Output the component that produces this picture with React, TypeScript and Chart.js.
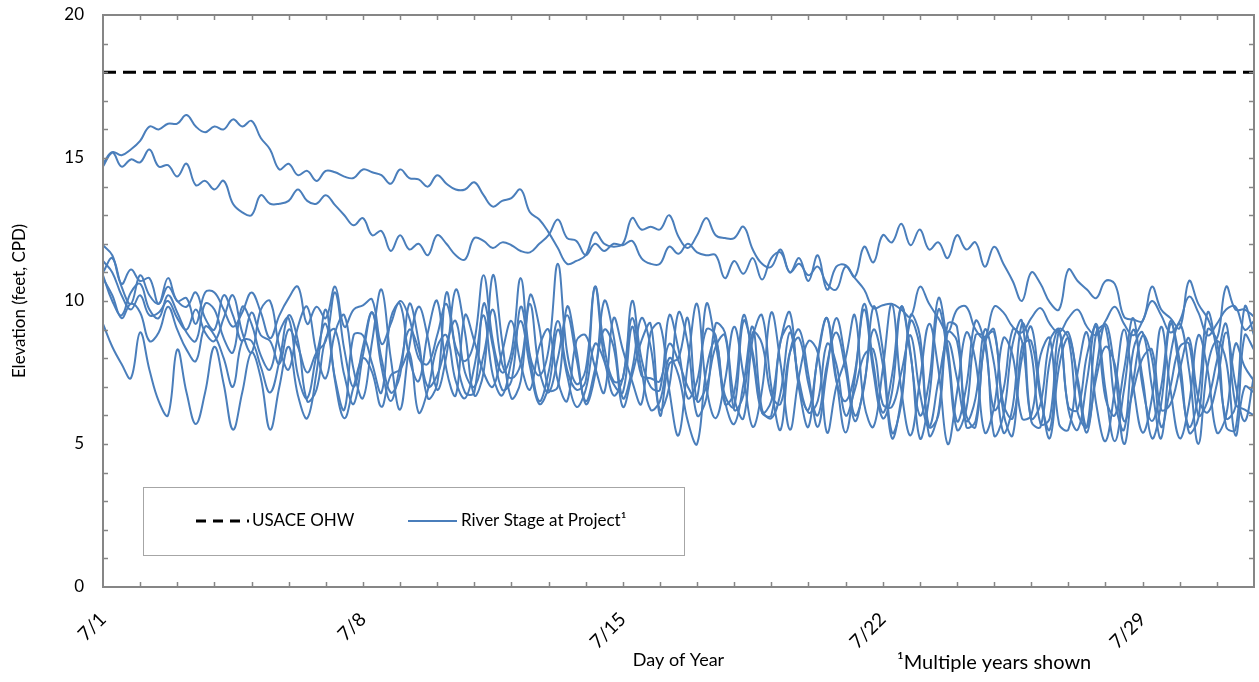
import { useEffect, useRef } from 'react';
import Chart from 'chart.js/auto';

// Sampling interval of every stage record, in days after 7/1
const STEP_DAYS = 0.25;
const X_MAX_DAYS = 31;

const TICK_DAYS = [0, 7, 14, 21, 28];
const TICK_LABELS = ['7/1', '7/8', '7/15', '7/22', '7/29'];
const Y_TICKS = [0, 5, 10, 15, 20];

// USACE ordinary high water, feet CPD
const OHW_LEVEL = 18;

// River stage at the project, one array per year (feet, CPD), 4 readings per day
const stageA = [
  14.7, 15.2, 15.1, 15.3,
  15.6, 16.1, 16.0, 16.2,
  16.2, 16.5, 16.1, 15.9,
  16.1, 16.0, 16.35, 16.1,
  16.3, 15.7, 15.3, 14.6,
  14.8, 14.4, 14.55, 14.2,
  14.55, 14.5, 14.35, 14.3,
  14.6, 14.5, 14.4, 14.1,
  14.6, 14.3, 14.25, 14.0,
  14.4, 14.1, 13.9, 13.9,
  14.15, 13.7, 13.3, 13.5,
  13.6, 13.9, 13.1, 12.85,
  12.4, 11.85, 11.3, 11.4,
  11.6, 12.4, 12.0, 11.9,
  12.0, 12.9, 12.5, 12.6,
  12.5, 13.0, 12.25, 11.85,
  12.3, 12.9, 12.3, 12.2,
  12.2, 12.6, 11.8, 11.3,
  11.2, 11.8, 11.0, 11.5,
  10.7, 11.6, 10.4, 11.2,
  11.25, 10.85, 11.9, 11.35,
  12.3, 12.05, 12.7, 11.95,
  12.5, 11.8, 12.05, 11.5,
  12.3, 11.8, 12.05, 11.2,
  11.9, 11.3, 10.7, 10.0,
  11.0, 10.6, 9.95, 9.7,
  11.1, 10.7, 10.4, 10.1,
  10.7, 10.6, 9.45, 9.35,
  9.3, 10.5, 9.7, 9.4,
  9.05, 10.7, 9.9, 9.4,
  8.7, 10.5, 9.7, 9.7,
  9.45,
];

const stageB = [
  14.8, 15.2, 14.7, 14.95,
  14.85, 15.3, 14.7, 14.75,
  14.35, 14.8, 14.05, 14.2,
  13.9, 14.2, 13.4, 13.1,
  13.0, 13.7, 13.4, 13.4,
  13.5, 13.9, 13.5, 13.4,
  13.7, 13.35, 13.0, 12.65,
  12.9, 12.3, 12.45, 11.75,
  12.3, 11.8, 12.0, 11.6,
  12.3, 12.0, 11.6, 11.45,
  12.2, 12.1, 11.85, 12.05,
  11.95, 11.75, 11.7, 12.0,
  12.3, 12.85, 12.2, 12.1,
  11.6, 12.0, 11.75, 12.0,
  11.95, 12.1, 11.5, 11.3,
  11.3, 11.9, 11.65, 12.0,
  11.7, 11.6, 11.6, 10.8,
  11.4, 10.95, 11.5, 10.75,
  11.5, 11.7, 11.0, 11.3,
  10.9, 11.2, 10.6, 10.4,
  11.2, 10.8, 10.4, 9.75,
  9.85, 9.9, 9.7, 9.45,
  10.5, 9.9, 9.4, 8.9,
  9.7, 9.8, 9.0, 8.7,
  9.8, 9.6, 9.1, 8.9,
  9.4, 9.75, 9.2, 8.9,
  9.4, 9.7, 9.1, 8.8,
  9.3, 9.8, 9.2, 8.8,
  9.3, 10.0, 9.5, 8.9,
  9.3, 10.15, 9.6, 8.8,
  9.2, 9.7, 9.8, 9.0,
  9.3,
];

const stageC = [
  11.95, 11.6, 10.6, 11.1,
  10.7, 10.8, 9.9, 10.8,
  10.0, 10.1, 9.2, 10.3,
  10.3, 9.7, 9.1, 9.6,
  10.3, 9.6, 8.7, 9.5,
  10.1, 10.5, 9.2, 9.8,
  9.4, 10.5, 9.1, 9.7,
  9.85, 10.05, 8.5, 9.2,
  10.0, 9.4, 8.0, 7.8,
  8.8, 9.9, 8.4, 7.9,
  8.6, 10.9, 8.6, 7.5,
  8.2, 10.8, 8.1, 7.4,
  8.3, 11.3, 8.2, 7.1,
  7.6, 10.5, 8.4, 7.2,
  7.3, 10.0, 8.0, 7.0,
  6.9, 9.5, 8.3, 6.6,
  7.2, 9.0, 8.8, 6.4,
  6.8, 9.5, 8.0, 6.1,
  6.5, 8.6, 9.6, 7.0,
  6.2, 8.0, 9.4, 7.2,
  6.5, 7.5, 9.9, 7.8,
  6.1, 7.4, 9.8, 8.1,
  6.0, 7.2, 10.1, 8.4,
  5.8, 7.0, 9.3, 8.5,
  6.2, 6.9, 9.0, 8.6,
  5.9, 6.4, 8.6, 9.0,
  6.3, 6.2, 8.1, 9.1,
  6.6, 6.0, 7.6, 9.4,
  7.0, 5.8, 7.0, 9.3,
  7.5, 5.6, 6.7, 9.6,
  8.2, 5.9, 6.3, 9.8,
  8.8,
];

const stageD = [
  11.0, 11.5, 10.5, 9.9,
  10.9, 10.2, 9.9, 10.5,
  10.0, 9.8, 10.3, 9.4,
  9.0, 10.2, 9.5, 8.6,
  9.6, 8.8, 8.6, 7.8,
  9.0, 8.4, 7.5, 8.2,
  8.6, 10.3, 8.3, 7.0,
  8.4, 9.6, 8.0, 6.8,
  7.4, 9.9, 8.6, 6.6,
  7.1, 10.3, 8.2, 6.8,
  6.8, 9.9, 8.4, 6.9,
  7.2, 9.8, 8.0, 6.5,
  7.5, 9.3, 7.6, 6.9,
  7.2, 10.5, 8.0, 7.1,
  6.8, 9.1, 7.4, 7.3,
  7.2, 8.5, 7.9, 7.0,
  6.6, 9.9, 8.5, 6.7,
  6.3, 9.3, 8.2, 6.1,
  6.0, 8.6, 9.1, 6.9,
  5.6, 8.1, 9.4, 7.3,
  5.4, 7.3, 9.7, 7.5,
  5.9, 6.8, 9.8, 8.2,
  5.2, 6.6, 9.7, 8.1,
  5.5, 6.2, 8.8, 8.7,
  5.3, 6.0, 8.5, 9.3,
  5.8, 5.6, 7.9, 9.0,
  6.2, 5.5, 7.2, 9.2,
  6.9, 5.1, 6.9, 9.0,
  7.3, 5.2, 6.4, 9.2,
  7.9, 5.4, 5.9, 9.0,
  8.6, 5.6, 5.5, 8.8,
  8.3,
];

const stageE = [
  10.9, 10.0, 9.5, 10.3,
  10.6, 9.7, 9.4, 10.2,
  9.6, 8.9, 8.6, 9.9,
  9.7, 8.7, 8.2, 9.8,
  9.2, 8.1, 7.6, 8.9,
  9.4, 7.4, 6.6, 8.1,
  9.2, 7.3, 6.2, 8.8,
  8.8, 7.8, 6.8, 9.4,
  9.9, 8.0, 7.2, 8.9,
  10.0, 7.6, 6.7, 9.5,
  8.6, 7.5, 7.0, 8.2,
  9.3, 7.8, 6.9, 8.4,
  9.0, 7.2, 6.5, 8.6,
  8.8, 7.7, 6.8, 9.4,
  8.3, 7.2, 6.4, 8.9,
  9.2, 6.9, 5.3, 7.8,
  9.9, 7.0, 5.9, 7.2,
  9.1, 7.4, 5.6, 6.9,
  9.6, 7.8, 5.5, 7.4,
  8.6, 8.2, 5.4, 7.0,
  8.0, 9.5, 6.4, 5.6,
  7.6, 9.9, 6.9, 5.3,
  7.2, 9.2, 7.6, 5.0,
  6.8, 8.9, 7.9, 5.4,
  6.3, 8.7, 8.1, 5.9,
  6.0, 8.1, 8.7, 5.7,
  5.5, 7.5, 8.9, 6.4,
  5.1, 6.9, 9.0, 7.0,
  5.4, 6.6, 9.1, 6.9,
  5.2, 6.4, 8.8, 7.6,
  5.4, 6.0, 8.5, 7.7,
  7.2,
];

const stageF = [
  9.2, 8.4, 7.8, 7.3,
  8.9, 7.6, 6.5, 6.0,
  8.3, 6.8, 5.7, 6.8,
  8.4, 7.1, 5.5, 6.8,
  8.2, 7.3, 5.5, 7.0,
  8.4, 6.7, 5.9, 7.5,
  9.7, 7.2, 5.9, 7.0,
  8.0, 7.5, 6.3, 7.4,
  7.6, 8.2, 6.1, 6.9,
  8.4, 8.8, 7.2, 6.6,
  7.7, 9.5, 7.4, 6.7,
  7.9, 9.3, 7.7, 6.4,
  7.0, 9.0, 7.4, 6.3,
  6.9, 8.5, 7.9, 6.7,
  7.3, 9.4, 7.6, 6.2,
  6.5, 8.0, 7.4, 5.8,
  5.0, 7.6, 8.6, 6.5,
  5.7, 7.1, 9.1, 6.2,
  5.9, 6.8, 8.9, 7.2,
  6.1, 6.5, 8.5, 7.8,
  6.0, 6.9, 8.1, 8.3,
  6.4, 6.3, 7.5, 8.8,
  6.8, 5.6, 7.2, 8.6,
  7.3, 5.8, 6.6, 9.0,
  7.8, 5.4, 6.3, 9.2,
  8.2, 5.7, 5.9, 9.0,
  8.7, 6.1, 5.6, 8.9,
  9.1, 6.5, 5.5, 8.3,
  8.9, 7.0, 5.2, 8.1,
  9.2, 7.6, 5.0, 7.7,
  8.6, 7.9, 5.3, 7.0,
  6.8,
];

const stageG = [
  11.4, 11.0, 10.2, 9.7,
  10.2, 9.5, 9.6, 10.0,
  9.4, 9.0, 9.7, 8.9,
  8.6, 9.4, 10.2, 8.9,
  8.2, 9.7, 10.0, 8.4,
  7.6, 9.1, 9.8, 8.2,
  7.3, 8.9, 9.5, 7.6,
  6.6, 8.6, 10.4, 8.0,
  6.2, 8.4, 9.8, 8.7,
  6.9, 8.1, 10.4, 8.9,
  6.7, 7.5, 10.9, 8.6,
  6.6, 7.2, 10.2, 9.1,
  6.9, 7.0, 9.8, 8.3,
  6.4, 7.4, 10.0, 8.8,
  6.6, 7.6, 9.4, 8.4,
  6.2, 7.0, 9.6, 8.5,
  6.0, 6.6, 9.2, 8.9,
  6.6, 5.9, 8.7, 9.5,
  7.0, 5.5, 8.2, 9.0,
  7.4, 5.6, 7.6, 9.4,
  7.9, 6.0, 7.0, 9.8,
  8.3, 5.4, 6.4, 9.5,
  8.8, 5.3, 6.1, 9.2,
  9.1, 5.6, 5.8, 8.5,
  9.0, 6.1, 5.3, 8.4,
  8.6, 6.6, 5.5, 8.3,
  8.9, 7.1, 5.4, 7.6,
  9.2, 7.6, 5.0, 7.2,
  8.8, 8.0, 5.6, 7.0,
  8.4, 8.5, 6.0, 6.5,
  7.9, 9.2, 6.4, 6.2,
  6.0,
];

const stageH = [
  10.8, 10.2, 9.4, 9.9,
  9.6, 8.6, 8.9, 9.8,
  9.0, 8.3, 7.9, 9.1,
  8.8, 8.0, 7.0, 8.6,
  8.6, 7.7, 6.8, 7.9,
  9.5, 8.6, 6.5, 6.9,
  8.7, 9.0, 7.4, 6.4,
  8.1, 9.6, 7.7, 6.5,
  7.7, 9.0, 8.3, 7.0,
  7.4, 8.5, 9.3, 7.5,
  7.0, 8.1, 9.7, 7.8,
  7.3, 7.8, 9.9, 7.6,
  6.8, 8.0, 9.5, 8.0,
  6.5, 7.6, 9.0, 8.4,
  6.3, 7.4, 8.6, 9.2,
  6.0, 7.8, 8.0, 9.4,
  6.5, 7.0, 8.4, 8.8,
  6.2, 6.7, 8.9, 8.5,
  6.7, 6.4, 8.2, 8.7,
  7.1, 6.0, 7.8, 8.9,
  7.6, 5.8, 7.1, 9.0,
  7.8, 5.2, 6.6, 9.3,
  8.4, 5.6, 6.0, 8.9,
  8.6, 6.0, 5.6, 8.6,
  8.9, 6.4, 5.9, 8.0,
  9.1, 6.8, 5.2, 7.7,
  8.7, 7.3, 5.6, 7.3,
  8.4, 7.8, 5.8, 6.9,
  8.0, 8.3, 6.2, 6.4,
  7.6, 8.7, 6.6, 6.1,
  7.1, 8.9, 7.1, 5.8,
  7.4,
];

const STAGE_YEARS = [stageA, stageB, stageC, stageD, stageE, stageF, stageG, stageH];

const STAGE_COLOR = '#4a7ebb';
const FRAME_COLOR = '#868686';
const FONT_FAMILY = 'Lato, "Liberation Sans", Arial, sans-serif';

// Box frame with small inward ticks on all four sides (daily on x, 1 ft on y)
const framePlugin = {
  id: 'insideFrame',
  afterDatasetsDraw(chart: any) {
    const { ctx, chartArea, scales } = chart;
    const { left, right, top, bottom } = chartArea;
    const x = scales.x;
    const y = scales.y;
    ctx.save();
    ctx.strokeStyle = FRAME_COLOR;
    ctx.lineWidth = 1.5;
    ctx.beginPath();
    for (let d = 1; d < X_MAX_DAYS; d++) {
      const px = Math.round(x.getPixelForValue(d)) + 0.5;
      ctx.moveTo(px, bottom);
      ctx.lineTo(px, bottom - 5);
      ctx.moveTo(px, top);
      ctx.lineTo(px, top + 5);
    }
    for (let v = 1; v < 20; v++) {
      const py = Math.round(y.getPixelForValue(v)) + 0.5;
      ctx.moveTo(left, py);
      ctx.lineTo(left + 5, py);
      ctx.moveTo(right, py);
      ctx.lineTo(right - 5, py);
    }
    ctx.stroke();
    ctx.lineWidth = 2;
    ctx.strokeRect(left, top, right - left, bottom - top);
    ctx.restore();
  },
};

// Legend box inside the plot and the footnote under the axis
const annotationPlugin = {
  id: 'legendAndNote',
  afterDraw(chart: any) {
    const { ctx } = chart;
    ctx.save();
    ctx.fillStyle = '#ffffff';
    ctx.fillRect(143, 487, 541, 68);
    ctx.strokeStyle = '#a6a6a6';
    ctx.lineWidth = 1;
    ctx.strokeRect(143.5, 487.5, 541, 68);

    ctx.lineWidth = 3;
    ctx.strokeStyle = '#000000';
    ctx.setLineDash([10, 7]);
    ctx.beginPath();
    ctx.moveTo(196, 521);
    ctx.lineTo(249, 521);
    ctx.stroke();
    ctx.setLineDash([]);

    ctx.lineWidth = 2;
    ctx.strokeStyle = STAGE_COLOR;
    ctx.beginPath();
    ctx.moveTo(408, 521);
    ctx.lineTo(457, 521);
    ctx.stroke();

    ctx.fillStyle = '#000000';
    ctx.font = `17px ${FONT_FAMILY}`;
    ctx.textBaseline = 'middle';
    ctx.textAlign = 'left';
    ctx.fillText('USACE OHW', 252, 521);
    ctx.fillText('River Stage at Project¹', 461, 521);

    ctx.font = `20px ${FONT_FAMILY}`;
    ctx.fillText('¹Multiple years shown', 897, 663);
    ctx.restore();
  },
};

export default function App() {
  const canvasRef = useRef<HTMLCanvasElement | null>(null);

  useEffect(() => {
    const canvas = canvasRef.current;
    if (!canvas) return;

    const stageSets = STAGE_YEARS.map((vals) => ({
      data: vals.map((v, i) => ({ x: i * STEP_DAYS, y: v })),
      borderColor: STAGE_COLOR,
      borderWidth: 2,
      pointRadius: 0,
      tension: 0.4,
      fill: false,
    }));

    const ohwSet = {
      data: [
        { x: 0, y: OHW_LEVEL },
        { x: X_MAX_DAYS, y: OHW_LEVEL },
      ],
      borderColor: '#000000',
      borderWidth: 3,
      borderDash: [13, 7],
      pointRadius: 0,
      fill: false,
    };

    const chart = new Chart(canvas, {
      type: 'line',
      data: { datasets: [...stageSets, ohwSet] as any },
      options: {
        animation: false,
        responsive: false,
        maintainAspectRatio: false,
        layout: { padding: { top: 15, right: 5, left: 0, bottom: 0 } },
        plugins: { legend: { display: false }, tooltip: { enabled: false } },
        scales: {
          x: {
            type: 'linear',
            min: 0,
            max: X_MAX_DAYS,
            afterBuildTicks: (axis: any) => {
              axis.ticks = TICK_DAYS.map((value) => ({ value }));
            },
            afterFit: (scale: any) => {
              scale.height = 95;
            },
            grid: { display: false, drawTicks: false },
            border: { display: false },
            ticks: {
              autoSkip: false,
              maxRotation: 45,
              minRotation: 45,
              padding: 21,
              color: '#000000',
              font: { family: FONT_FAMILY, size: 19 },
              callback: (value: any) => TICK_LABELS[TICK_DAYS.indexOf(Number(value))] ?? '',
            },
            title: {
              display: true,
              text: 'Day of Year',
              color: '#000000',
              font: { family: FONT_FAMILY, size: 18 },
              padding: { top: 0, bottom: 11 },
            },
          },
          y: {
            min: 0,
            max: 20,
            afterBuildTicks: (axis: any) => {
              axis.ticks = Y_TICKS.map((value) => ({ value }));
            },
            afterFit: (scale: any) => {
              scale.width = 103;
              scale.paddingTop = 0;
              scale.paddingBottom = 0;
            },
            grid: { display: false, drawTicks: false },
            border: { display: false },
            ticks: {
              padding: 19,
              color: '#000000',
              font: { family: FONT_FAMILY, size: 17 },
            },
            title: {
              display: true,
              text: 'Elevation (feet, CPD)',
              color: '#000000',
              font: { family: FONT_FAMILY, size: 17 },
              padding: { top: 9, bottom: 0 },
            },
          },
        },
      },
      plugins: [framePlugin, annotationPlugin],
    });

    return () => {
      chart.destroy();
    };
  }, []);

  return (
    <div style={{ position: 'fixed', left: 0, top: 0, width: 1259, height: 682, background: '#ffffff' }}>
      <canvas ref={canvasRef} width={1259} height={682} />
    </div>
  );
}
